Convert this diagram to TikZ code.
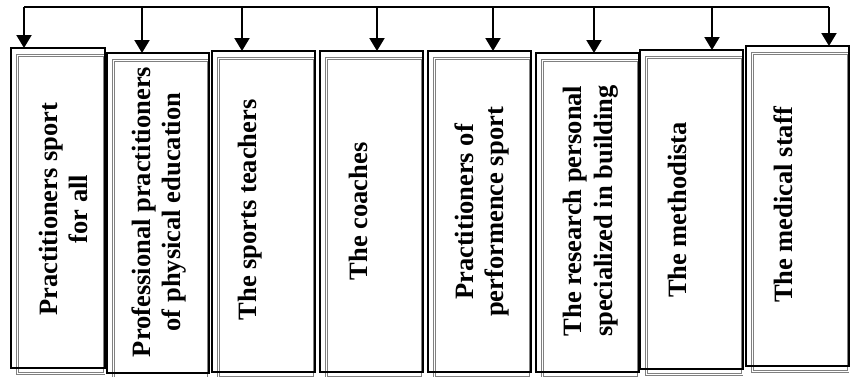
\documentclass[tikz,border=0pt]{standalone}
\usepackage{fontspec}
\setmainfont{Liberation Serif}
\usetikzlibrary{arrows.meta,calc,backgrounds}
\begin{document}
\begin{tikzpicture}[x=1pt,y=-1pt,
  box/.style={draw=black,line width=2.5pt,inner sep=0pt,outer sep=0pt,anchor=north west},
  grayframe/.style={draw=black!50,double=white,double distance=0.9pt,line width=1pt},
  lbl/.style={rotate=90,align=center,inner sep=0pt,font=\fontsize{26.5}{30.5}\selectfont\bfseries},
  bar/.style={line width=2pt},
  arr/.style={line width=2pt,-{Triangle[width=15pt,length=13pt]}}]
\useasboundingbox (0,0) rectangle (851,376);
% boxes
\node[box,minimum width=94pt,minimum height=320pt] (b1) at (11,48) {};
\node[box,minimum width=102pt,minimum height=320pt] (b2) at (107,53) {};
\node[box,minimum width=103pt,minimum height=321pt] (b3) at (212,51) {};
\node[box,minimum width=103pt,minimum height=321pt] (b4) at (320,51) {};
\node[box,minimum width=103pt,minimum height=321pt] (b5) at (428,51) {};
\node[box,minimum width=103pt,minimum height=319pt] (b6) at (536,53) {};
\node[box,minimum width=103pt,minimum height=319pt] (b7) at (640,50) {};
\node[box,minimum width=103pt,minimum height=320pt] (b8) at (746,46) {};
% gray inner frames
\begin{pgfonlayer}{background}
\foreach \b in {b1,b2,b3,b4,b5,b6,b7,b8}{
  \draw[grayframe] ($(\b.north west)+(6.5,7.5)$) rectangle ($(\b.south east)+(-1,5.5)$);
}
\end{pgfonlayer}
% labels
\node[lbl] (l1) at (63.5,209) {Practitioners sport\\for all};
\node[lbl] (l2) at (159,212) {Professional practitioners\\of physical education};
\node[lbl] (l3) at (250,210) {The sports teachers};
\node[lbl] (l4) at (358,211.5) {The coaches};
\node[lbl] (l5) at (482,212) {Practitioners of\\performence sport};
\node[lbl] (l6) at (590.5,211) {The research personal\\specialized in building};
\node[lbl] (l7) at (677,210) {The methodista};
\node[lbl] (l8) at (783,205) {The medical staff};
% distribution bar
\coordinate (t1) at (24,7);
\coordinate (t2) at (142,7);
\coordinate (t3) at (242,7);
\coordinate (t4) at (377,7);
\coordinate (t5) at (493,7);
\coordinate (t6) at (594,7);
\coordinate (t7) at (712,7);
\coordinate (t8) at (829,7);
\draw[bar] (t1) -- (t8);
\foreach \i in {1,...,8}{
  \draw[arr] (t\i) -- (t\i |- b\i.north);
}
\end{tikzpicture}
\end{document}
